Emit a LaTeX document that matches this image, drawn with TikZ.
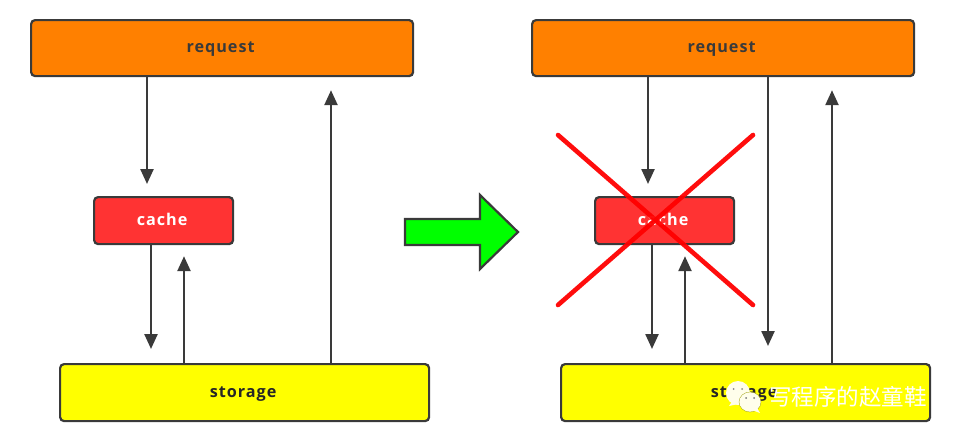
\documentclass[tikz,border=0pt]{standalone}
\usepackage{fontspec}
\setmainfont{Open Sans}
\newfontfamily\cjk{Noto Sans CJK SC}
\newfontfamily\lbl[LetterSpace=6]{Open Sans}
\usetikzlibrary{arrows.meta}
\definecolor{edge}{HTML}{3A3A3A}
\definecolor{reqfill}{HTML}{FF8000}
\definecolor{cachefill}{HTML}{FF3333}
\definecolor{storefill}{HTML}{FFFF00}
\definecolor{bigfill}{HTML}{00FF00}
\newcommand\blab[1]{\kern-3pt\raisebox{-4.5pt}[0pt][0pt]{#1}}
\tikzset{
  x=1pt,y=-1pt,
  boxbase/.style={draw=edge,line width=2.2pt,rounded corners=4pt,inner sep=0pt,anchor=north west,
    font=\lbl\bfseries\fontsize{16.2}{18}\selectfont},
  reqbox/.style={boxbase,fill=reqfill,text=edge,minimum width=382pt,minimum height=56pt},
  cachebox/.style={boxbase,fill=cachefill,text=white,minimum width=139pt,minimum height=47pt},
  storebox/.style={boxbase,fill=storefill,text=black!85,minimum width=369pt,minimum height=57pt},
  conn/.style={draw=edge,line width=2.4pt,-{Triangle[length=15pt,width=13pt]}},
  gapend/.style={shorten >=#1pt},
  crossline/.style={draw=red,line width=4.6pt,line cap=round,opacity=.95},
  bigarrow/.style={draw=edge,line width=2.2pt,fill=bigfill,line join=miter},
  wmark/.style={text=white,inner sep=0pt,font=\cjk\fontsize{22.5}{24}\selectfont},
  bubble/.style={fill=white!92!yellow,draw=none}
}
\begin{document}
\begin{tikzpicture}
\useasboundingbox (0,0) rectangle (959,439);
% left
\node[reqbox]   (reqL)   at (30,19)  {\blab{request}};
\node[cachebox] (cacheL) at (93,196) {\blab{cache}};
\node[storebox] (storeL) at (59,363) {\blab{storage}};
\draw[conn,gapend=12] (reqL.south -| 147,0) -- (cacheL.north -| 147,0);
\draw[conn,gapend=14] (cacheL.south -| 151,0) -- (storeL.north -| 151,0);
\draw[conn,gapend=11] (storeL.north -| 184,0) -- (cacheL.south -| 184,0);
\draw[conn,gapend=13] (storeL.north -| 331,0) -- (reqL.south -| 331,0);
% big arrow
\coordinate (bigA) at (405,219);
\draw[bigarrow] (bigA) -- (480,219) -- (480,195) -- (518,232) -- (480,269) -- (480,245) -- (405,245) -- cycle;
% right
\node[reqbox]   (reqR)   at (531,19)  {\blab{request}};
\node[cachebox] (cacheR) at (594,196) {\blab{cache}};
\node[storebox] (storeR) at (560,363) {\blab{storage}};
\draw[conn,gapend=12] (reqR.south -| 648,0) -- (cacheR.north -| 648,0);
\draw[conn,gapend=14] (cacheR.south -| 652,0) -- (storeR.north -| 652,0);
\draw[conn,gapend=11] (storeR.north -| 685,0) -- (cacheR.south -| 685,0);
\draw[conn,gapend=17] (reqR.south -| 768,0) -- (storeR.north -| 768,0);
\draw[conn,gapend=13] (storeR.north -| 832,0) -- (reqR.south -| 832,0);
% cross
\coordinate (xa) at (558,135);
\coordinate (xb) at (753,305);
\coordinate (xc) at (753,135);
\coordinate (xd) at (558,305);
\draw[crossline] (xa) -- (xb);
\draw[crossline] (xc) -- (xd);
% watermark
\fill[bubble] (738,393) ellipse (12pt and 12pt);
\fill[bubble] (729,406) -- (733,400) -- (738,404) -- cycle;
\fill[edge!60] (733.5,389) circle (1pt) (742,389) circle (1pt);
\fill[bubble,draw=storefill!60!black,line width=.3pt] (750,402) ellipse (11pt and 10pt);
\fill[bubble] (757,408) -- (760,413) -- (752,410) -- cycle;
\fill[edge!70] (746,398) circle (1pt) (754,398) circle (1pt);
\node[wmark,anchor=west] (wm) at (769,397) {写程序的赵童鞋};
\end{tikzpicture}
\end{document}
